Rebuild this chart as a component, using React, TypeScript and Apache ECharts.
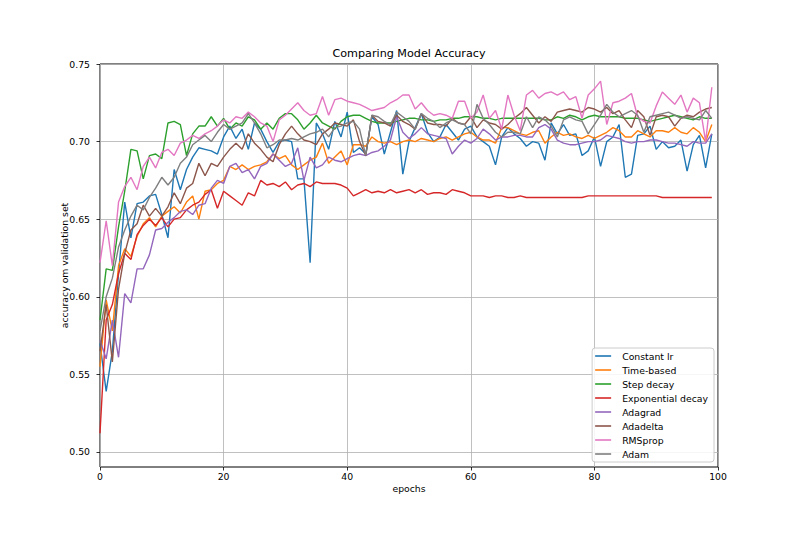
import React, { useEffect, useRef } from 'react';
import * as echarts from 'echarts';

// validation accuracy per epoch (0..99)
const constantLr = [
    0.570, 0.539, 0.565, 0.615, 0.661, 0.638, 0.660, 0.661, 0.665, 0.666, 0.653, 0.638, 0.682, 0.669, 0.682, 0.690, 0.696, 0.695, 0.694, 0.692,
    0.703, 0.710, 0.702, 0.708, 0.695, 0.712, 0.708, 0.700, 0.693, 0.700, 0.701, 0.700, 0.676, 0.676, 0.622, 0.712, 0.705, 0.695, 0.713, 0.703,
    0.719, 0.693, 0.696, 0.692, 0.716, 0.711, 0.692, 0.706, 0.720, 0.679, 0.700, 0.709, 0.718, 0.706, 0.700, 0.703, 0.711, 0.706, 0.701, 0.708,
    0.710, 0.703, 0.700, 0.697, 0.685, 0.703, 0.709, 0.705, 0.702, 0.697, 0.700, 0.699, 0.688, 0.712, 0.705, 0.711, 0.704, 0.705, 0.691, 0.694,
    0.703, 0.684, 0.700, 0.703, 0.711, 0.677, 0.679, 0.704, 0.705, 0.710, 0.695, 0.700, 0.696, 0.697, 0.701, 0.681, 0.698, 0.704, 0.683, 0.705,
];
const timeBased = [
    0.555, 0.598, 0.578, 0.620, 0.631, 0.626, 0.639, 0.647, 0.651, 0.645, 0.652, 0.655, 0.658, 0.654, 0.661, 0.665, 0.650, 0.668, 0.669, 0.673,
    0.675, 0.684, 0.682, 0.685, 0.682, 0.684, 0.685, 0.687, 0.692, 0.689, 0.691, 0.685, 0.682, 0.685, 0.688, 0.690, 0.699, 0.686, 0.690, 0.694,
    0.685, 0.698, 0.698, 0.697, 0.703, 0.700, 0.699, 0.700, 0.698, 0.700, 0.701, 0.700, 0.702, 0.701, 0.700, 0.702, 0.703, 0.701, 0.703, 0.705,
    0.706, 0.703, 0.701, 0.701, 0.699, 0.709, 0.709, 0.707, 0.705, 0.704, 0.706, 0.707, 0.699, 0.703, 0.706, 0.704, 0.705, 0.703, 0.702, 0.704,
    0.702, 0.704, 0.706, 0.709, 0.707, 0.703, 0.703, 0.707, 0.705, 0.703, 0.707, 0.707, 0.706, 0.709, 0.706, 0.705, 0.709, 0.706, 0.700, 0.711,
];
const stepDecay = [
    0.585, 0.618, 0.617, 0.645, 0.668, 0.695, 0.694, 0.676, 0.691, 0.692, 0.689, 0.712, 0.713, 0.711, 0.691, 0.705, 0.710, 0.710, 0.716, 0.710,
    0.715, 0.708, 0.712, 0.710, 0.716, 0.714, 0.708, 0.712, 0.708, 0.715, 0.718, 0.718, 0.714, 0.708, 0.712, 0.717, 0.712, 0.710, 0.708, 0.713,
    0.716, 0.717, 0.717, 0.715, 0.713, 0.712, 0.712, 0.712, 0.713, 0.714, 0.715, 0.715, 0.714, 0.714, 0.713, 0.714, 0.714, 0.715, 0.715, 0.716,
    0.716, 0.716, 0.715, 0.715, 0.714, 0.715, 0.715, 0.715, 0.715, 0.715, 0.715, 0.715, 0.714, 0.714, 0.716, 0.715, 0.717, 0.716, 0.714, 0.716,
    0.717, 0.716, 0.716, 0.716, 0.716, 0.715, 0.715, 0.715, 0.714, 0.713, 0.714, 0.715, 0.716, 0.717, 0.716, 0.715, 0.714, 0.716, 0.715, 0.715,
];
const expDecay = [
    0.512, 0.585, 0.595, 0.615, 0.628, 0.624, 0.640, 0.646, 0.650, 0.646, 0.651, 0.645, 0.650, 0.651, 0.656, 0.659, 0.661, 0.666, 0.669, 0.657,
    0.668, 0.665, 0.662, 0.659, 0.667, 0.665, 0.675, 0.672, 0.673, 0.671, 0.674, 0.669, 0.672, 0.673, 0.671, 0.674, 0.673, 0.673, 0.673, 0.672,
    0.670, 0.665, 0.667, 0.669, 0.667, 0.668, 0.667, 0.669, 0.667, 0.668, 0.669, 0.667, 0.669, 0.666, 0.667, 0.667, 0.666, 0.669, 0.668, 0.667,
    0.665, 0.665, 0.665, 0.664, 0.665, 0.665, 0.664, 0.664, 0.665, 0.664, 0.664, 0.664, 0.664, 0.664, 0.664, 0.664, 0.664, 0.664, 0.664, 0.665,
    0.665, 0.665, 0.665, 0.665, 0.665, 0.665, 0.665, 0.665, 0.665, 0.665, 0.665, 0.664, 0.664, 0.664, 0.664, 0.664, 0.664, 0.664, 0.664, 0.664,
];
const adagrad = [
    0.572, 0.560, 0.585, 0.561, 0.602, 0.596, 0.618, 0.618, 0.627, 0.643, 0.644, 0.648, 0.651, 0.655, 0.656, 0.653, 0.659, 0.660, 0.670, 0.675,
    0.673, 0.684, 0.686, 0.680, 0.682, 0.676, 0.684, 0.686, 0.692, 0.688, 0.684, 0.686, 0.696, 0.675, 0.690, 0.683, 0.685, 0.690, 0.688, 0.687,
    0.689, 0.691, 0.692, 0.691, 0.693, 0.694, 0.697, 0.701, 0.716, 0.706, 0.702, 0.705, 0.709, 0.705, 0.704, 0.703, 0.702, 0.692, 0.697, 0.701,
    0.699, 0.702, 0.708, 0.705, 0.701, 0.703, 0.703, 0.704, 0.704, 0.703, 0.703, 0.709, 0.711, 0.708, 0.701, 0.699, 0.698, 0.698, 0.699, 0.700,
    0.700, 0.701, 0.704, 0.703, 0.702, 0.700, 0.699, 0.700, 0.700, 0.701, 0.701, 0.700, 0.699, 0.699, 0.698, 0.697, 0.700, 0.699, 0.699, 0.705,
];
const adadelta = [
    0.565, 0.595, 0.558, 0.605, 0.628, 0.643, 0.647, 0.659, 0.652, 0.657, 0.652, 0.658, 0.667, 0.660, 0.670, 0.673, 0.686, 0.678, 0.686, 0.684,
    0.690, 0.695, 0.699, 0.695, 0.705, 0.699, 0.695, 0.690, 0.687, 0.698, 0.705, 0.710, 0.705, 0.701, 0.700, 0.698, 0.705, 0.708, 0.712, 0.711,
    0.710, 0.714, 0.700, 0.691, 0.717, 0.713, 0.712, 0.710, 0.717, 0.713, 0.711, 0.708, 0.718, 0.712, 0.711, 0.711, 0.710, 0.715, 0.712, 0.711,
    0.716, 0.709, 0.714, 0.712, 0.711, 0.708, 0.711, 0.715, 0.718, 0.722, 0.717, 0.712, 0.716, 0.713, 0.719, 0.720, 0.721, 0.720, 0.719, 0.722,
    0.721, 0.719, 0.722, 0.718, 0.720, 0.714, 0.709, 0.720, 0.716, 0.704, 0.716, 0.717, 0.716, 0.710, 0.715, 0.717, 0.716, 0.719, 0.721, 0.722,
];
const rmsprop = [
    0.622, 0.649, 0.620, 0.661, 0.671, 0.677, 0.669, 0.684, 0.690, 0.683, 0.693, 0.695, 0.691, 0.699, 0.701, 0.704, 0.702, 0.705, 0.707, 0.710,
    0.714, 0.712, 0.716, 0.715, 0.719, 0.716, 0.712, 0.710, 0.700, 0.714, 0.717, 0.721, 0.725, 0.720, 0.717, 0.718, 0.729, 0.717, 0.727, 0.728,
    0.726, 0.725, 0.724, 0.722, 0.720, 0.721, 0.722, 0.725, 0.727, 0.730, 0.730, 0.721, 0.725, 0.720, 0.717, 0.718, 0.717, 0.715, 0.726, 0.726,
    0.715, 0.719, 0.730, 0.715, 0.720, 0.708, 0.730, 0.717, 0.707, 0.730, 0.733, 0.728, 0.731, 0.732, 0.730, 0.732, 0.727, 0.729, 0.715, 0.730,
    0.734, 0.739, 0.711, 0.725, 0.726, 0.728, 0.731, 0.716, 0.713, 0.712, 0.723, 0.732, 0.728, 0.724, 0.730, 0.719, 0.728, 0.725, 0.700, 0.735,
];
const adam = [
    0.578, 0.600, 0.612, 0.632, 0.643, 0.652, 0.659, 0.656, 0.664, 0.670, 0.677, 0.672, 0.677, 0.686, 0.690, 0.698, 0.701, 0.704, 0.700, 0.706,
    0.711, 0.708, 0.710, 0.712, 0.718, 0.712, 0.705, 0.696, 0.698, 0.701, 0.701, 0.702, 0.701, 0.703, 0.705, 0.706, 0.708, 0.703, 0.709, 0.710,
    0.712, 0.713, 0.708, 0.691, 0.717, 0.716, 0.713, 0.711, 0.719, 0.716, 0.713, 0.708, 0.718, 0.715, 0.713, 0.709, 0.712, 0.714, 0.712, 0.711,
    0.705, 0.724, 0.715, 0.711, 0.706, 0.703, 0.706, 0.706, 0.705, 0.716, 0.709, 0.716, 0.714, 0.710, 0.703, 0.714, 0.716, 0.714, 0.713, 0.705,
    0.711, 0.717, 0.724, 0.719, 0.716, 0.718, 0.720, 0.717, 0.706, 0.716, 0.717, 0.718, 0.719, 0.717, 0.715, 0.716, 0.715, 0.714, 0.720, 0.715,
];

const seriesNames = ['Constant lr', 'Time-based', 'Step decay', 'Exponential decay', 'Adagrad', 'Adadelta', 'RMSprop', 'Adam'];
const seriesValues = [constantLr, timeBased, stepDecay, expDecay, adagrad, adadelta, rmsprop, adam];
const colors = ['#1f77b4', '#ff7f0e', '#2ca02c', '#d62728', '#9467bd', '#8c564b', '#e377c2', '#7f7f7f'];
const yTicks = [0.5, 0.55, 0.6, 0.65, 0.7, 0.75];

const FONT = 'DejaVu Sans';

const App = () => {
    const chartRef = useRef(null);

    useEffect(() => {
        const myChart = echarts.init(chartRef.current, null, { renderer: 'svg' });

        const option = {
            animation: false,
            color: colors,
            textStyle: { fontFamily: FONT, color: '#000' },
            title: {
                text: 'Comparing Model Accuracy',
                left: 409,
                top: 48,
                padding: 0,
                textAlign: 'center',
                textStyle: { fontFamily: FONT, fontSize: 11.2, fontWeight: 'normal', color: '#000' },
            },
            grid: {
                left: 100,
                right: 82,
                top: 64,
                bottom: 66,
                show: true,
                borderColor: '#000',
                borderWidth: 1,
            },
            legend: {
                orient: 'vertical',
                right: 86,
                bottom: 71,
                icon: 'rect',
                itemWidth: 16,
                itemHeight: 1.6,
                itemGap: 0,
                padding: [1, 6, 1, 3],
                backgroundColor: 'rgba(255,255,255,0.85)',
                borderColor: '#cccccc',
                borderWidth: 1,
                borderRadius: 3,
                textStyle: { fontFamily: FONT, fontSize: 9.3, lineHeight: 14, color: '#000', padding: [0, 0, 0, 6] },
                data: seriesNames,
            },
            xAxis: {
                type: 'value',
                min: 0,
                max: 100,
                interval: 20,
                name: 'epochs',
                nameLocation: 'middle',
                nameGap: 17,
                nameMoveOverlap: false,
                nameTextStyle: { fontFamily: FONT, fontSize: 9.3, color: '#000' },
                axisLine: { show: false },
                axisTick: { show: true, inside: false, length: 3.5, lineStyle: { color: '#000', width: 0.8 } },
                axisLabel: { fontFamily: FONT, fontSize: 9.3, color: '#000', margin: 5 },
                splitLine: { show: true, lineStyle: { color: '#b0b0b0', width: 0.8 } },
            },
            yAxis: {
                type: 'value',
                min: 0.4903,
                max: 0.75,
                name: 'accuracy om validation set',
                nameLocation: 'middle',
                nameGap: 31,
                nameRotate: 90,
                nameMoveOverlap: false,
                nameTextStyle: { fontFamily: FONT, fontSize: 9.3, color: '#000' },
                axisLine: { show: false },
                axisTick: {
                    show: true,
                    inside: false,
                    length: 3.5,
                    customValues: yTicks,
                    lineStyle: { color: '#000', width: 0.8 },
                },
                axisLabel: {
                    fontFamily: FONT,
                    fontSize: 9.3,
                    color: '#000',
                    margin: 10,
                    customValues: yTicks,
                    formatter: (v: number) => v.toFixed(2),
                },
                splitLine: { show: true, lineStyle: { color: '#b0b0b0', width: 0.8 } },
            },
            series: seriesNames.map((name, i) => ({
                name,
                type: 'line',
                data: seriesValues[i].map((v, epoch) => [epoch, v]),
                showSymbol: false,
                symbol: 'none',
                lineStyle: { width: 1.4, color: colors[i] },
                itemStyle: { color: colors[i] },
            })),
        };

        myChart.setOption(option);

        return () => {
            myChart.dispose();
        };
    }, []);

    return (
        <div
            ref={chartRef}
            style={{ position: 'fixed', left: 0, top: 0, width: '800px', height: '533px', background: '#fff' }}
        />
    );
};

export default App;
